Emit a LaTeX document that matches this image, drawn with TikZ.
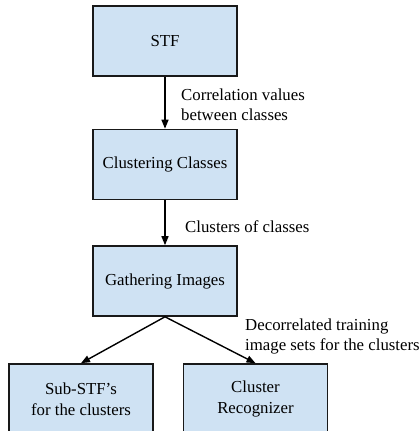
\documentclass[tikz,border=0pt]{standalone}
\usepackage{fontspec}
\setmainfont{Liberation Serif}
\usetikzlibrary{arrows.meta}
\definecolor{boxfill}{HTML}{CFE2F3}
\begin{document}
\begin{tikzpicture}[x=1pt,y=-1pt,
  stage/.style={draw=black!90, line width=1.6pt, fill=boxfill, minimum width=144pt,
    minimum height=70pt, inner sep=0pt, align=center,
    font=\fontsize{16.8}{21}\selectfont},
  flow/.style={-{Triangle[length=9pt,width=7pt]}, line width=1.4pt},
  note/.style={anchor=west, align=left, inner sep=0pt,
    font=\fontsize{16.8}{20}\selectfont}]
\useasboundingbox (0,0) rectangle (420,431);
\clip (0,0) rectangle (420,431);

% process stages
\node[stage] (stf) at (165,41) {STF};
\node[stage] (clu) at (165,164.5) {Clustering Classes};
\node[stage] (gat) at (165,281) {Gathering Images};
\node[stage] (sub) at (81,399) {Sub-STF’s\\for the clusters};
\node[stage] (rec) at (255.5,399) {Cluster\\Recognizer};

% connectors
\draw[flow] (stf) -- (clu);
\draw[flow] (clu) -- (gat);
\draw[flow] (gat.south) -- (sub.north);
\draw[flow] (gat.south) -- (rec.north);

% connector labels
\node[note] (l1) at (181,104.5) {Correlation values\\between classes};
\node[note] (l2) at (185,227) {Clusters of classes};
\node[note] (l3) at (245,336.5) {Decorrelated training\\image sets for the clusters};
\end{tikzpicture}
\end{document}
